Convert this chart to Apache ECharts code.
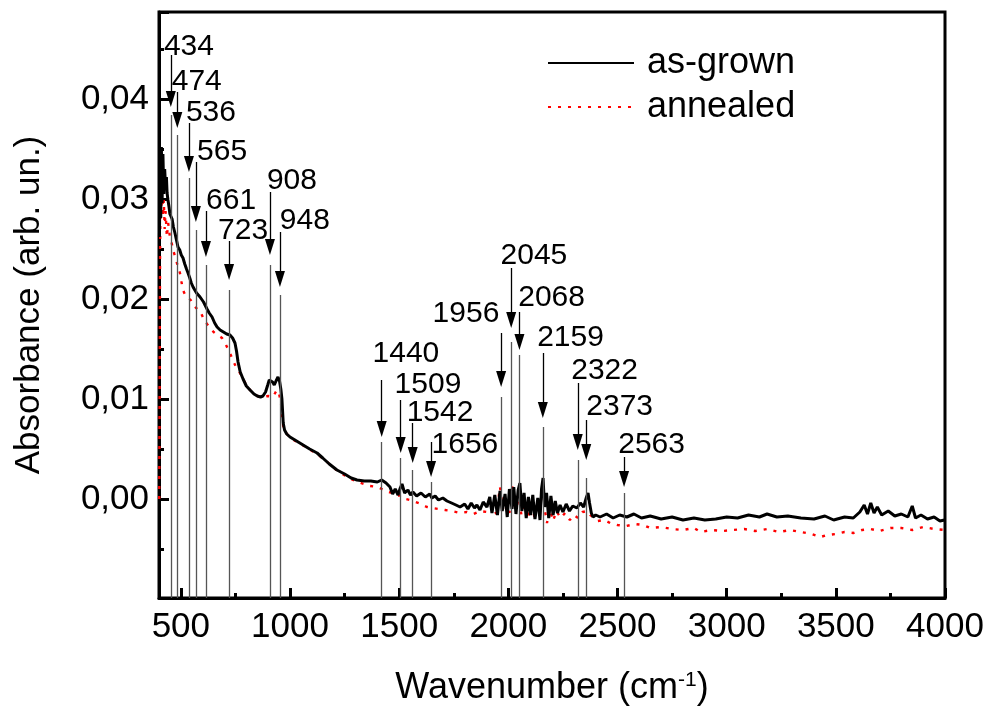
<!DOCTYPE html>
<html>
<head>
<meta charset="utf-8">
<script src="https://cdn.jsdelivr.net/npm/echarts@6/dist/echarts.min.js"></script>
<style>
  html, body { margin: 0; padding: 0; background: #fff; }
  #chart { width: 987px; height: 711px; }
</style>
</head>
<body>
<div id="chart"></div>
<script>
// as-grown spectrum (wavenumber, absorbance)
const agWn = [402,405,408,411,414,418,422,426,430,434,437,441,446,450,455,460,466,473,480,487,495,502,510,518,526,533,541,548,556,564,572,580,588,596,604,611,620,630,643,655,666,680,695,710,725,737,748,755,762,772,785,800,817,835,850,865,876,888,898,905,912,920,928,936,945,952,958,963,966,969,975,985,1000,1030,1060,1090,1124,1150,1180,1215,1250,1280,1307,1340,1370,1400,1420,1440,1458,1470,1482,1495,1505,1513,1525,1540,1552,1563,1580,1600,1620,1640,1650,1665,1680,1700,1719,1740,1760,1779,1800,1815,1830,1845,1856,1870,1885,1902,1915,1925,1938,1950,1962,1972,1985,1995,2005,2017,2025,2035,2045,2053,2062,2072,2082,2092,2102,2112,2122,2135,2145,2152,2159,2166,2175,2185,2195,2205,2215,2225,2237,2250,2265,2280,2295,2314,2330,2345,2358,2365,2372,2380,2388,2400,2420,2450,2480,2510,2543,2575,2610,2650,2700,2750,2800,2850,2900,2950,3000,3050,3100,3150,3185,3230,3280,3340,3400,3450,3490,3540,3580,3610,3630,3645,3660,3675,3690,3710,3740,3770,3800,3830,3850,3865,3890,3920,3950,3977,3998];
const agAbs = [0.0262,0.0338,0.0281,0.0352,0.0296,0.0345,0.0305,0.0330,0.0312,0.0322,0.0306,0.0299,0.0292,0.0285,0.0287,0.0280,0.0272,0.0266,0.0259,0.0252,0.0249,0.0244,0.0241,0.0235,0.0230,0.0226,0.0221,0.0216,0.0212,0.0209,0.0206,0.0204,0.0202,0.0200,0.0197,0.0195,0.0190,0.0186,0.0182,0.0176,0.0172,0.0169,0.0167,0.0165,0.0164,0.0161,0.0156,0.0148,0.0137,0.0127,0.0120,0.0113,0.0109,0.0105,0.0103,0.0102,0.0103,0.0107,0.0114,0.0119,0.0121,0.0117,0.0114,0.0118,0.0122,0.0118,0.0110,0.0100,0.0088,0.0076,0.0069,0.0065,0.0062,0.0058,0.0054,0.0050,0.0046,0.0041,0.0035,0.0029,0.0025,0.0021,0.0019,0.0018,0.0018,0.0017,0.0019,0.0016,0.0012,0.0005,0.0010,0.0004,0.0011,0.0015,0.0006,0.0009,0.0004,0.0007,0.0003,0.0006,0.0002,0.0005,0.0001,0.0003,-0.0001,0.0001,-0.0002,-0.0004,-0.0006,-0.0008,-0.0005,-0.0010,-0.0004,-0.0009,-0.0006,-0.0011,-0.0003,-0.0008,0.0002,-0.0014,0.0004,-0.0016,0.0008,-0.0012,0.0005,-0.0018,0.0010,-0.0010,0.0012,-0.0015,0.0009,0.0016,-0.0012,0.0006,-0.0019,0.0002,-0.0016,0.0004,-0.0020,0.0001,-0.0021,0.0010,0.0021,-0.0008,0.0006,-0.0019,0.0003,-0.0016,-0.0002,-0.0014,-0.0006,-0.0013,-0.0005,-0.0012,-0.0007,-0.0009,-0.0004,-0.0008,0.0002,0.0006,-0.0004,-0.0014,-0.0018,-0.0016,-0.0018,-0.0015,-0.0019,-0.0016,-0.0018,-0.0015,-0.0019,-0.0017,-0.0020,-0.0018,-0.0021,-0.0019,-0.0021,-0.0020,-0.0018,-0.0019,-0.0016,-0.0018,-0.0015,-0.0018,-0.0017,-0.0019,-0.0020,-0.0017,-0.0021,-0.0018,-0.0019,-0.0013,-0.0006,-0.0015,-0.0004,-0.0014,-0.0008,-0.0016,-0.0012,-0.0017,-0.0015,-0.0018,-0.0007,-0.0019,-0.0016,-0.0020,-0.0018,-0.0022,-0.0021];

// annealed spectrum
const anWn = [401,403,405,408,411,414,418,422,426,430,436,442,450,458,466,473,482,490,496,503,510,520,533,545,556,570,588,605,620,634,650,668,689,705,718,725,740,755,771,790,805,817,840,862,880,900,922,932,940,950,958,963,968,975,990,1000,1040,1080,1124,1160,1200,1240,1280,1310,1340,1366,1400,1420,1440,1467,1490,1510,1530,1550,1575,1600,1627,1650,1680,1710,1740,1779,1810,1840,1870,1902,1925,1945,1962,1975,1990,2005,2017,2030,2045,2060,2075,2090,2105,2120,2140,2159,2168,2177,2190,2205,2220,2240,2260,2282,2300,2320,2340,2360,2375,2388,2410,2440,2466,2500,2540,2580,2617,2650,2700,2750,2800,2850,2880,2930,2980,3030,3080,3130,3185,3240,3290,3340,3390,3430,3460,3500,3540,3580,3620,3660,3700,3750,3800,3850,3900,3950,3998];
const anAbs = [0.0000,0.0120,0.0250,0.0318,0.0290,0.0316,0.0282,0.0299,0.0270,0.0288,0.0262,0.0276,0.0262,0.0256,0.0248,0.0243,0.0236,0.0230,0.0226,0.0217,0.0209,0.0204,0.0201,0.0199,0.0195,0.0191,0.0188,0.0180,0.0175,0.0171,0.0167,0.0164,0.0161,0.0155,0.0149,0.0146,0.0138,0.0131,0.0126,0.0118,0.0112,0.0109,0.0104,0.0102,0.0102,0.0103,0.0102,0.0106,0.0109,0.0105,0.0097,0.0086,0.0074,0.0068,0.0064,0.0061,0.0056,0.0051,0.0045,0.0039,0.0031,0.0025,0.0020,0.0017,0.0015,0.0013,0.0012,0.0010,0.0008,0.0006,0.0003,0.0004,0.0000,-0.0001,-0.0003,-0.0005,-0.0008,-0.0009,-0.0010,-0.0011,-0.0012,-0.0014,-0.0013,-0.0015,-0.0012,-0.0013,-0.0006,-0.0015,0.0012,-0.0010,0.0002,-0.0014,0.0014,-0.0008,0.0004,-0.0016,-0.0002,-0.0020,-0.0006,-0.0018,-0.0009,0.0007,-0.0012,-0.0024,-0.0010,-0.0022,-0.0012,-0.0019,-0.0014,-0.0021,-0.0016,-0.0019,-0.0013,-0.0012,-0.0016,-0.0018,-0.0022,-0.0021,-0.0024,-0.0026,-0.0027,-0.0025,-0.0026,-0.0029,-0.0028,-0.0030,-0.0031,-0.0029,-0.0033,-0.0031,-0.0032,-0.0031,-0.0030,-0.0032,-0.0030,-0.0033,-0.0031,-0.0033,-0.0035,-0.0038,-0.0036,-0.0035,-0.0033,-0.0034,-0.0031,-0.0030,-0.0032,-0.0029,-0.0029,-0.0031,-0.0028,-0.0030,-0.0031];

// peak annotations
const peakNames = ['434','474','536','565','661','723','908','948','1440','1509','1542','1656','1956','2045','2068','2159','2322','2373','2563'];
const peakLineWn = [454,484,537,569,615,721,908,954,1420,1507,1562,1646,1967,2013,2051,2158,2318,2357,2530];
const labelWn = [537,573,638,689,730,785,1009,1068,1531,1632,1687,1801,1806,2117,2198,2285,2441,2510,2656];
const labelAbs = [0.0452,0.0417,0.0386,0.0347,0.0298,0.0268,0.0318,0.0278,0.0145,0.0114,0.0086,0.0054,0.0185,0.0243,0.0201,0.0161,0.0128,0.0092,0.0054];
const shaftTopAbs = [0.0444,0.0407,0.0376,0.0337,0.0288,0.0258,0.0307,0.0267,0.0119,0.0099,0.0076,0.0057,0.0166,0.0231,0.0187,0.0146,0.0116,0.0079,0.0042];
const tipAbs = [0.0392,0.0371,0.0327,0.0277,0.0242,0.0219,0.0244,0.0212,0.0062,0.0046,0.0036,0.0022,0.0112,0.0171,0.0149,0.0081,0.0049,0.0039,0.0012];
const dropAbs = [0.0384,0.0364,0.0321,0.0269,0.0234,0.0209,0.0234,0.0204,0.0057,0.0041,0.0029,0.0017,0.0102,0.0157,0.0144,0.0072,0.0039,0.0021,0.0006];

const yMin = -0.0099, yMax = 0.0487;
const font = '"Liberation Sans", Arial, sans-serif';

const chart = echarts.init(document.getElementById('chart'));

const arrows = [];
const drops = [];
peakLineWn.forEach((wn, i) => {
  arrows.push([{ coord: [wn, shaftTopAbs[i]] }, { coord: [wn, tipAbs[i] + 0.0008] }]);
  drops.push([{ coord: [wn, dropAbs[i]] }, { coord: [wn, yMin] }]);
});

chart.setOption({
  animation: false,
  textStyle: { fontFamily: font, color: '#000' },
  grid: { left: 159, right: 42, top: 12, bottom: 113, show: true, borderColor: '#000', borderWidth: 3 },
  legend: {
    data: ['as-grown', 'annealed'],
    orient: 'vertical',
    left: 542, top: 40,
    itemWidth: 86, itemHeight: 14, itemGap: 8,
    itemStyle: { color: 'rgba(0,0,0,0)', borderWidth: 0 },
    textStyle: { fontSize: 36, fontFamily: font, color: '#000', padding: [0, 0, 0, 8] },
    selectedMode: false
  },
  xAxis: {
    type: 'value', min: 400, max: 4000, splitNumber: 7,
    name: 'Wavenumber (cm{sup|-1})', nameLocation: 'middle', nameGap: 72,
    nameTextStyle: { fontSize: 36, fontFamily: font, color: '#000',
      rich: { sup: { fontSize: 21, verticalAlign: 'top', padding: [0, 0, 15, 0], fontFamily: font } } },
    axisLine: { onZero: false, lineStyle: { color: '#000', width: 3 } },
    axisTick: { inside: true, length: 10, lineStyle: { color: '#000', width: 3 } },
    minorTick: { show: true, splitNumber: 2, length: 5, lineStyle: { color: '#000', width: 3 } },
    splitLine: { show: false },
    axisLabel: { fontSize: 35, color: '#000', margin: 12, fontFamily: font,
      formatter: v => (v % 500 === 0 ? String(v) : '') }
  },
  yAxis: {
    type: 'value', min: yMin, max: yMax, splitNumber: 6,
    name: 'Absorbance (arb. un.)', nameLocation: 'middle', nameGap: 112,
    nameTextStyle: { fontSize: 35, fontFamily: font, color: '#000' },
    axisLine: { onZero: false, lineStyle: { color: '#000', width: 3 } },
    axisTick: { inside: true, length: 10, lineStyle: { color: '#000', width: 3 } },
    minorTick: { show: true, splitNumber: 2, length: 5, lineStyle: { color: '#000', width: 3 } },
    splitLine: { show: false },
    axisLabel: { fontSize: 35, color: '#000', margin: 10, fontFamily: font,
      formatter: v => {
        const r = Math.round(v * 100);
        if (Math.abs(v * 100 - r) > 1e-6 || r < 0 || r > 4) return '';
        return (r / 100).toFixed(2).replace('.', ',');
      } }
  },
  series: [
    {
      name: 'guides', type: 'line', data: [], silent: true, z: 1,
      markLine: {
        silent: true, animation: false, symbol: 'none', label: { show: false },
        lineStyle: { color: '#555', width: 1.3, type: 'solid' },
        emphasis: { disabled: true },
        data: drops
      }
    },
    {
      name: 'arrows', type: 'line', data: [], silent: true, z: 4,
      markLine: {
        silent: true, animation: false, symbol: ['none', 'triangle'], symbolSize: [10, 16],
        label: { show: false },
        lineStyle: { color: '#000', width: 1.3, type: 'solid' },
        emphasis: { disabled: true },
        data: arrows
      }
    },
    {
      name: 'annealed', type: 'line', showSymbol: false, symbol: 'none', z: 2,
      data: anWn.map((w, i) => [w, anAbs[i]]),
      itemStyle: { color: '#ff0000' },
      lineStyle: { color: '#ff0000', width: 2.4, type: [3, 7] }
    },
    {
      name: 'as-grown', type: 'line', showSymbol: false, symbol: 'none', z: 3,
      data: agWn.map((w, i) => [w, agAbs[i]]),
      itemStyle: { color: '#000' },
      lineStyle: { color: '#000', width: 3 }
    },
    {
      name: 'labels', type: 'scatter', symbolSize: 0, silent: true, z: 5,
      itemStyle: { opacity: 1, color: '#000' },
      data: peakNames.map((n, i) => ({ name: n, value: [labelWn[i], labelAbs[i]] })),
      label: { show: true, position: 'inside', formatter: p => p.name,
        fontSize: 30, color: '#000', opacity: 1, fontFamily: font }
    }
  ]
});
</script>
</body>
</html>
